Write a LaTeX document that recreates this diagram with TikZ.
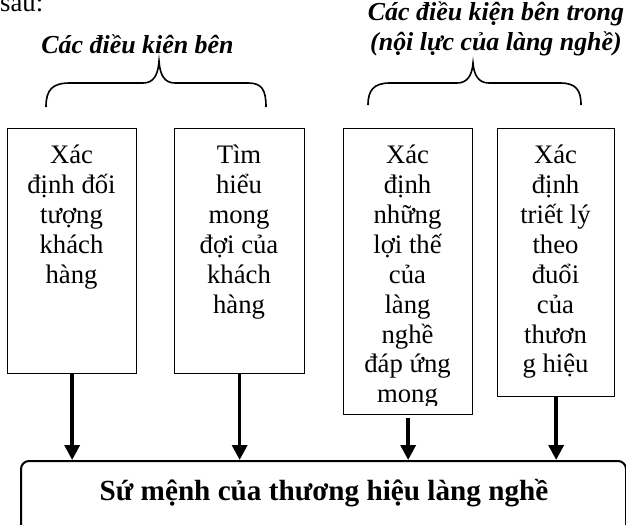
\documentclass[tikz,border=0pt]{standalone}
\usepackage{fontspec}
\setmainfont{Liberation Serif}
\usetikzlibrary{arrows.meta}
\begin{document}
\begin{tikzpicture}[x=1bp,y=-1bp,
  boxframe/.style={draw, line width=1.3bp, inner sep=0, anchor=north west},
  mainframe/.style={draw, line width=2bp, rounded corners=8bp, inner sep=0, anchor=north west},
  boxtext/.style={align=center, inner sep=0, anchor=north, font=\fontsize{26.8}{30}\selectfont,
    execute at begin node={\rule{0pt}{24bp}}},
  titletext/.style={align=center, inner sep=0, anchor=north, font=\fontsize{26}{30}\selectfont\bfseries\itshape,
    execute at begin node={\rule{0pt}{24bp}}},
  maintext/.style={inner sep=0, anchor=base, font=\fontsize{29.3}{32}\selectfont\bfseries},
  bracepath/.style={line width=1.6bp},
  arr/.style={line width=3.5bp, -{Triangle[length=15bp,width=15bp]}},
]
\useasboundingbox (0,0) rectangle (626,525);

% top text
\node[inner sep=0, anchor=base west, font=\fontsize{26.8}{30}\selectfont] (sau) at (0,12) {sau:};
\node[titletext] (t1) at (137.5,29) {Các điều kiên bên};
\node[titletext] (t2) at (496,2) {Các điều kiện bên trong\\(nội lực của làng nghề)};

% braces
\draw[bracepath] (46,107) .. controls (46,90) and (52,83) .. (70,83) -- (143,83)
  .. controls (153,83) and (158,76) .. (159,61)
  .. controls (160,76) and (165,83) .. (175,83) -- (248,83)
  .. controls (262,83) and (266,90) .. (266,107);
\draw[bracepath] (368,105) .. controls (368,90) and (374,83) .. (390,83) -- (457,83)
  .. controls (467,83) and (472,76) .. (473,63)
  .. controls (474,76) and (479,83) .. (489,83) -- (560,83)
  .. controls (576,83) and (581,90) .. (581,105);

% boxes
\node[boxframe, minimum width=129bp, minimum height=245bp] (b1) at (7,128) {};
\node[boxframe, minimum width=130bp, minimum height=245bp] (b2) at (174,128) {};
\node[boxframe, minimum width=129bp, minimum height=286bp] (b3) at (343,128) {};
\node[boxframe, minimum width=117bp, minimum height=268bp] (b4) at (497,128) {};

\node[boxtext] (x1) at (71.5,145) {Xác\\định đối\\tượng\\khách\\hàng};
\node[boxtext] (x2) at (239,145) {Tìm\\hiểu\\mong\\đợi của\\khách\\hàng};
\begin{scope}
  \clip (343,128) rectangle (472,405);
  \node[boxtext] (x3) at (407.5,145) {Xác\\định\\những\\lợi thế\\của\\làng\\nghề\\đáp ứng\\mong};
\end{scope}
\node[boxtext] (x4) at (555.5,145) {Xác\\định\\triết lý\\theo\\đuổi\\của\\thươn\\g hiệu};

% main box
\node[mainframe, minimum width=605bp, minimum height=75bp] (m) at (20,460) {};
\node[maintext] (mt) at (324,500) {Sứ mệnh của thương hiệu làng nghề};

% arrows
\draw[arr] (b1.south) -- (b1.south |- m.north);
\draw[arr] (b2.south) -- (b2.south |- m.north);
\draw[arr] ([yshift=-3bp]b3.south) -- (b3.south |- m.north);
\draw[arr] (b4.south) -- (b4.south |- m.north);
\end{tikzpicture}
\end{document}
